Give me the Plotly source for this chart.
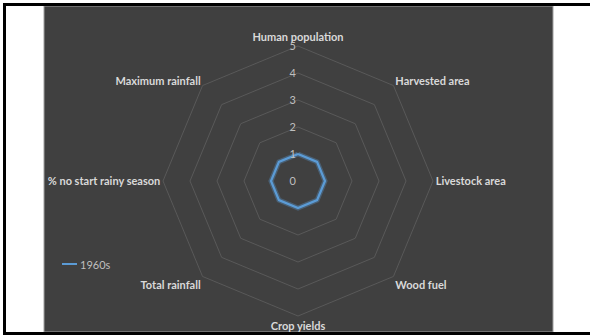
import plotly.graph_objects as go

# Radar categories, clockwise from the top
categories = [
    "Human population",
    "Harvested area",
    "Livestock area",
    "Wood fuel",
    "Crop yields",
    "Total rainfall",
    "% no start rainy season",
    "Maximum rainfall",
]
values_1960s = [1, 1, 1, 1, 1, 1, 1, 1]
radial_ticks = [0, 1, 2, 3, 4, 5]
series_name = "1960s"

W, H = 590, 335
cx, cy, rad = 298, 181, 135  # centre and outer radius of the radar, px
BLUE = "#5b9bd5"

fig = go.Figure()

# soft glow under the line
fig.add_trace(go.Scatterpolar(
    r=values_1960s + values_1960s[:1],
    theta=categories + categories[:1],
    mode="lines",
    line=dict(color="rgba(91,155,213,0.35)", width=5),
    hoverinfo="skip",
    showlegend=False,
))
fig.add_trace(go.Scatterpolar(
    r=values_1960s + values_1960s[:1],
    theta=categories + categories[:1],
    mode="lines",
    name=series_name,
    line=dict(color=BLUE, width=2.25),
    showlegend=False,
))

fig.update_layout(
    width=W, height=H,
    margin=dict(l=0, r=0, t=0, b=0),
    paper_bgcolor="white",
    font=dict(family="Lato, Open Sans, sans-serif", color="#d9d9d9", size=11),
    polar=dict(
        domain=dict(x=[(cx - rad) / W, (cx + rad) / W],
                    y=[1 - (cy + rad) / H, 1 - (cy - rad) / H]),
        bgcolor="#404040",
        gridshape="linear",
        radialaxis=dict(
            range=[0, 5], tickvals=radial_ticks, angle=90, tickangle=90,
            showline=False, ticks="", gridcolor="#595959", gridwidth=1,
            tickfont=dict(color="#bfbfbf", size=11),
            side="counterclockwise",
        ),
        angularaxis=dict(
            direction="clockwise", rotation=90,
            showgrid=False, showline=True, linecolor="#595959", linewidth=1,
            ticks="",
            tickfont=dict(color="#d9d9d9", size=11, weight="bold"),
        ),
    ),
    shapes=[
        # chart area panel
        dict(type="rect", xref="paper", yref="paper", layer="below",
             x0=44 / W, x1=553 / W, y0=1 - 332 / H, y1=1 - 6 / H,
             fillcolor="#404040", line=dict(color="#a0a0a0", width=1)),
        # black frame lines: top, left, bottom
        dict(type="rect", xref="paper", yref="paper", layer="below",
             x0=3 / W, x1=1, y0=1 - 6 / H, y1=1 - 3 / H,
             fillcolor="black", line=dict(width=0)),
        dict(type="rect", xref="paper", yref="paper", layer="below",
             x0=3 / W, x1=6 / W, y0=0, y1=1 - 3 / H,
             fillcolor="black", line=dict(width=0)),
        dict(type="rect", xref="paper", yref="paper", layer="below",
             x0=3 / W, x1=1, y0=0, y1=1 - 332 / H,
             fillcolor="black", line=dict(width=0)),
        # legend key line
        dict(type="line", xref="paper", yref="paper",
             x0=62 / W, x1=77 / W, y0=1 - 264 / H, y1=1 - 264 / H,
             line=dict(color=BLUE, width=2)),
    ],
    annotations=[
        dict(text=series_name, xref="paper", yref="paper",
             x=78 / W, y=1 - 264 / H, xanchor="left", yanchor="middle",
             showarrow=False, font=dict(color="#bfbfbf", size=11)),
    ],
)

fig.write_html("out.html")
